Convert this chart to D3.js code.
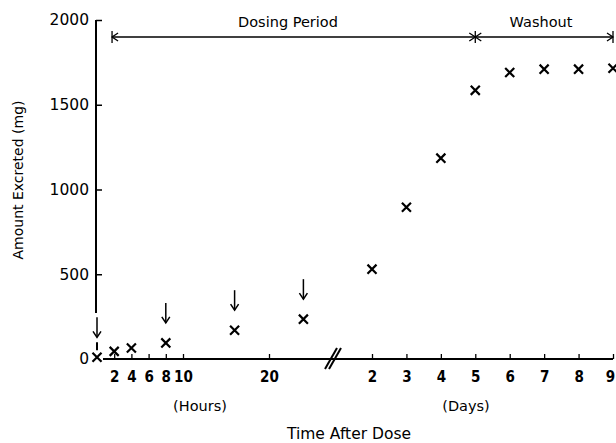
<!DOCTYPE html>
<html>
<head>
<meta charset="utf-8">
<script src="https://cdn.jsdelivr.net/npm/d3@7"></script>
<style>
  body { margin: 0; background: #fff; }
  svg { display: block; }
  text { fill: #000; font-family: "DejaVu Sans", sans-serif; }
</style>
</head>
<body>
<div id="vis"></div>
<script>
const WIDTH = 616;
const HEIGHT = 443;

// data
const hourTimes = [0, 2, 4, 8, 16, 24];
const hourAmounts = [10, 45, 65, 95, 170, 235];
const dayTimes = [2, 3, 4, 5, 6, 7, 8, 9];
const dayAmounts = [530, 895, 1185, 1585, 1690, 1710, 1710, 1715];
const doseHours = [0, 8, 16, 24];
const yTicks = [0, 500, 1000, 1500, 2000];
const hourTicks = [2, 4, 6, 8, 10, 20];
const dayTicks = [2, 3, 4, 5, 6, 7, 8, 9];

const AXIS_X = 96;
const AXIS_Y = 359;

const svg = d3.select('#vis')
  .append('svg')
    .attr('width', WIDTH)
    .attr('height', HEIGHT);

// scales: hours part then days part after the break
const Y = d3.scaleLinear().domain([0, 2000]).range([AXIS_Y, 20]);
const XH = d3.scaleLinear().domain([0, 10]).range([97, 183]);
const XD = d3.scaleLinear().domain([2, 9]).range([372, 613]);

// y axis
svg.append('line')
  .attr('x1', AXIS_X).attr('x2', AXIS_X)
  .attr('y1', Y(2000)).attr('y2', Y(0) - 46)
  .attr('stroke', '#000').attr('stroke-width', 2);

const yAxis = svg.append('g')
  .attr('transform', 'translate(' + AXIS_X + ',0)')
  .call(d3.axisLeft(Y).tickValues(yTicks).tickFormat(d3.format('d'))
    .tickSizeInner(-6).tickSizeOuter(0).tickPadding(7));
yAxis.select('.domain').remove();
yAxis.selectAll('line').attr('stroke-width', 1.5);
yAxis.selectAll('text').style('font-size', '15.5px');
// the axis line stops above 0, so no tick there
yAxis.selectAll('.tick').filter(d => d === 0).select('line').remove();

// x axis line
svg.append('line')
  .attr('x1', 103).attr('x2', XD(9))
  .attr('y1', AXIS_Y).attr('y2', AXIS_Y)
  .attr('stroke', '#000').attr('stroke-width', 2);

function styleX(g) {
  g.select('.domain').remove();
  g.selectAll('line').attr('stroke-width', 1.3);
  g.selectAll('text')
    .style('font-size', '15px')
    .style('font-family', '"DejaVu Sans Condensed", "DejaVu Sans", sans-serif')
    .style('font-stretch', 'condensed')
    .style('font-weight', 'bold');
}

svg.append('g')
  .attr('transform', 'translate(0,' + AXIS_Y + ')')
  .call(d3.axisBottom(XH).tickValues(hourTicks).tickFormat(d3.format('d'))
    .tickSizeInner(-5).tickSizeOuter(0).tickPadding(12))
  .call(styleX);

const dayAxis = svg.append('g')
  .attr('transform', 'translate(0,' + AXIS_Y + ')')
  .call(d3.axisBottom(XD).tickValues(dayTicks).tickFormat(d3.format('d'))
    .tickSizeInner(-5).tickSizeOuter(0).tickPadding(12))
  .call(styleX);
// keep the last label inside the page
dayAxis.selectAll('.tick').filter(d => d === 9).select('text').attr('dx', -3);

// axis break mark
const bx = 333;
[-2, 2].forEach(off => {
  svg.append('line')
    .attr('x1', bx + off - 6).attr('y1', AXIS_Y + 10)
    .attr('x2', bx + off + 6).attr('y2', AXIS_Y - 11)
    .attr('stroke', '#000').attr('stroke-width', 2);
});

// data points
const cross = d3.symbol(d3.symbolTimes).size(55);
const pts = hourTimes.map((t, i) => ({x: XH(t), y: Y(hourAmounts[i])}))
  .concat(dayTimes.map((t, i) => ({x: XD(t), y: Y(dayAmounts[i])})));

svg.selectAll('.point')
  .data(pts)
  .enter()
  .append('path')
    .attr('class', 'point')
    .attr('d', cross)
    .attr('transform', d => 'translate(' + d.x + ',' + d.y + ')')
    .attr('fill', 'none')
    .attr('stroke', '#000')
    .attr('stroke-width', 2.2);

// dose arrows
doseHours.forEach(h => {
  const i = hourTimes.indexOf(h);
  const x = XH(h);
  const yp = Y(hourAmounts[i]);
  const top = yp - 40, bot = yp - 20;
  const g = svg.append('g').attr('stroke', '#000').attr('fill', 'none').attr('stroke-width', 1.5);
  g.append('line').attr('x1', x).attr('x2', x).attr('y1', top).attr('y2', bot);
  g.append('path').attr('d', 'M' + (x - 4) + ',' + (bot - 6) + 'L' + x + ',' + bot + 'L' + (x + 4) + ',' + (bot - 6));
  if (h === 0) {
    g.append('line').attr('x1', x).attr('x2', x).attr('y1', bot + 5).attr('y2', bot + 13).attr('stroke-width', 2);
  }
});

// period annotation on top
const TOP_Y = 37;
const xStart = XH(1.75), xMid = XD(5), xEnd = XD(9);
const ann = svg.append('g').attr('stroke', '#000').attr('fill', 'none').attr('stroke-width', 1.3);
ann.append('line').attr('x1', xStart).attr('x2', xEnd).attr('y1', TOP_Y).attr('y2', TOP_Y);
[xStart, xMid, xEnd].forEach(x => {
  ann.append('line').attr('x1', x).attr('x2', x).attr('y1', TOP_Y - 6).attr('y2', TOP_Y + 6);
});
const head = (x, dir) => 'M' + (x + dir * 6) + ',' + (TOP_Y - 4) + 'L' + x + ',' + TOP_Y + 'L' + (x + dir * 6) + ',' + (TOP_Y + 4);
ann.append('path').attr('d', head(xStart, 1));
ann.append('path').attr('d', head(xMid, -1));
ann.append('path').attr('d', head(xMid, 1));
ann.append('path').attr('d', head(xEnd, -1));

svg.append('text')
  .attr('x', 288).attr('y', 27)
  .attr('text-anchor', 'middle').attr('font-size', '14.5px')
  .text('Dosing Period');

svg.append('text')
  .attr('x', 541).attr('y', 27)
  .attr('text-anchor', 'middle').attr('font-size', '14.5px')
  .text('Washout');

// axis titles
svg.append('text')
  .attr('transform', 'translate(23,180) rotate(-90)')
  .attr('text-anchor', 'middle').attr('font-size', '14px')
  .text('Amount Excreted (mg)');

svg.append('text')
  .attr('x', 200).attr('y', 411)
  .attr('text-anchor', 'middle').attr('font-size', '14.5px')
  .text('(Hours)');

svg.append('text')
  .attr('x', 466).attr('y', 411)
  .attr('text-anchor', 'middle').attr('font-size', '14.5px')
  .text('(Days)');

svg.append('text')
  .attr('x', 349).attr('y', 439)
  .attr('text-anchor', 'middle').attr('font-size', '15.5px')
  .text('Time After Dose');
</script>
</body>
</html>
